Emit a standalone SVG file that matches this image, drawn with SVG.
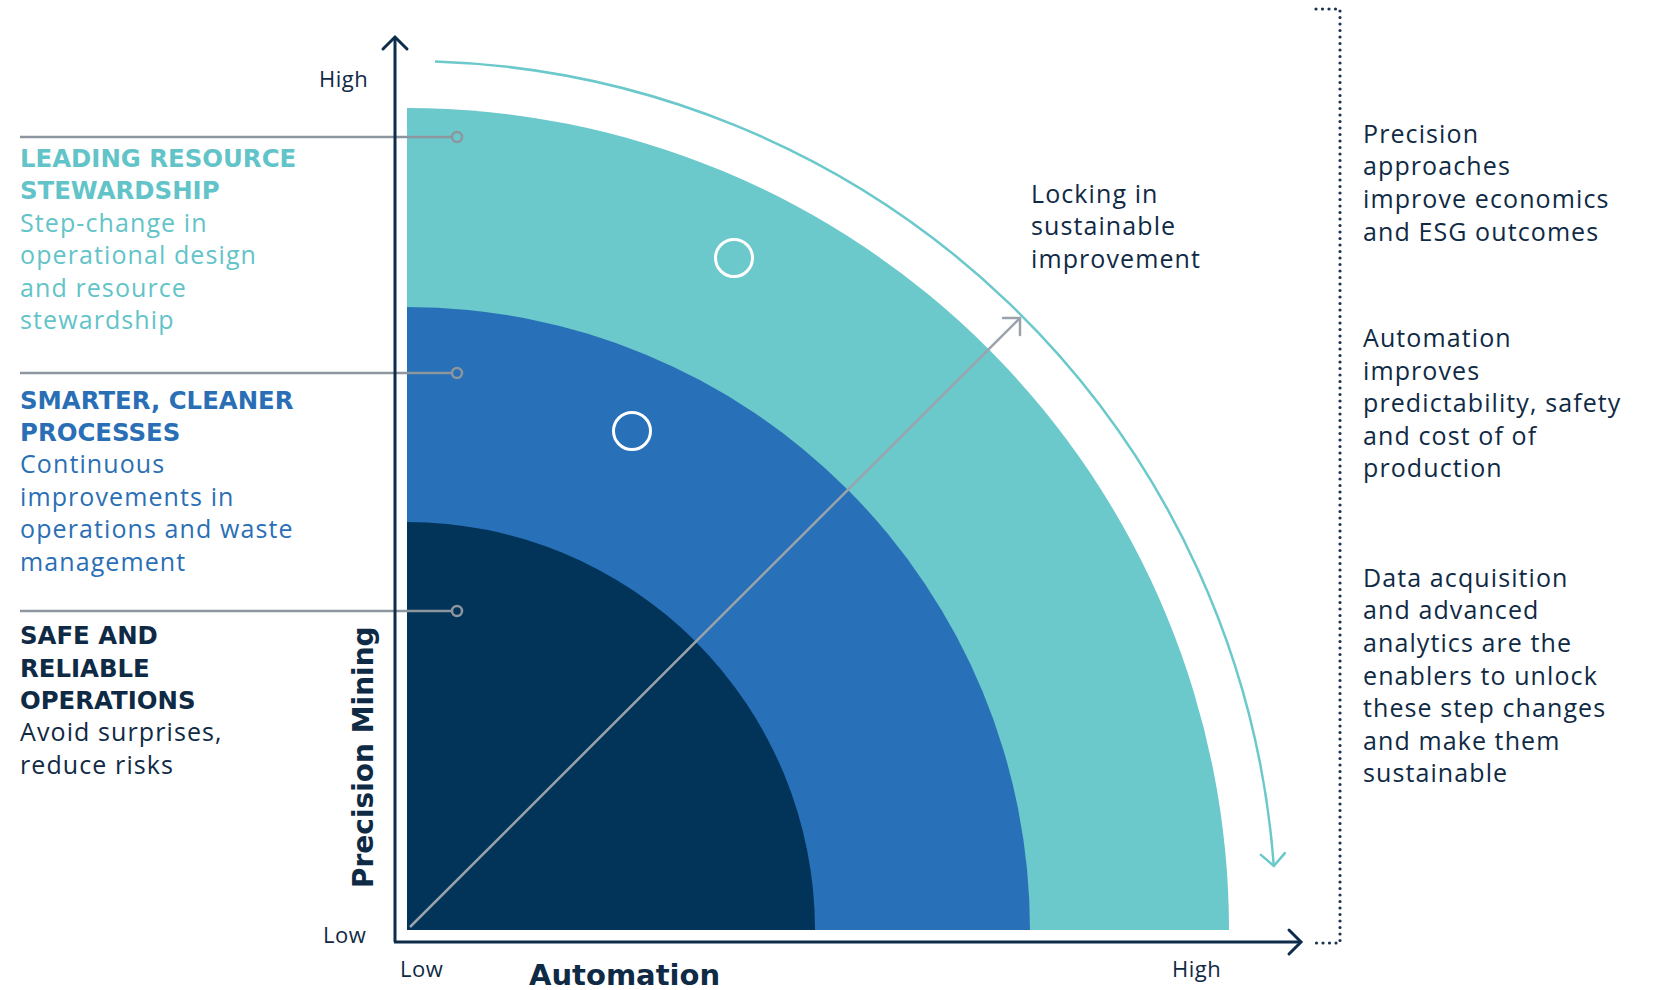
<svg xmlns="http://www.w3.org/2000/svg" width="1660" height="990" viewBox="0 0 1660 990">
<style>
.body{font-family:"Open Sans","DejaVu Sans",sans-serif;font-size:25px;letter-spacing:1.1px}
.head{font-family:"DejaVu Sans",sans-serif;font-weight:bold;font-size:24.4px}
.axl{font-family:"Open Sans","DejaVu Sans",sans-serif;font-size:22px;letter-spacing:0.5px;fill:#0f2a45}
.axt{font-family:"DejaVu Sans",sans-serif;font-weight:bold;font-size:29px;fill:#0f2a45}
.teal{fill:#62c4c8}.blue{fill:#2a6fb5}.navy{fill:#0f2a45}
.leader{stroke:#8d969e;stroke-width:2.5;fill:none}
.ring{stroke:#ffffff;stroke-width:3;fill:none}
.dots{stroke:#1a3350;stroke-width:3.2;stroke-linecap:round;stroke-dasharray:0 6.5;fill:none}
</style>
<defs>
<marker id="chevNavy" markerUnits="userSpaceOnUse" viewBox="-16 -16 20 32" markerWidth="20" markerHeight="32" refX="0" refY="0" orient="auto">
<path d="M-12,-12 L0,0 L-12,12" fill="none" stroke="#0e2d4d" stroke-width="3" stroke-linecap="round"/>
</marker>
<marker id="chevGray" markerUnits="userSpaceOnUse" viewBox="-16 -16 20 32" markerWidth="20" markerHeight="32" refX="0" refY="0" orient="auto">
<path d="M-12,-12 L0,0 L-12,12" fill="none" stroke="#9aa3ab" stroke-width="2.5" stroke-linecap="round"/>
</marker>
<marker id="chevTeal" markerUnits="userSpaceOnUse" viewBox="-16 -16 20 32" markerWidth="20" markerHeight="32" refX="0" refY="0" orient="auto">
<path d="M-12,-12 L0,0 L-12,12" fill="none" stroke="#6bc8cb" stroke-width="2.5" stroke-linecap="round"/>
</marker>
</defs>
<rect width="1660" height="990" fill="#ffffff"/>

<g id="rings">
<path d="M407,930 L407,108 A822,822 0 0 1 1229,930 Z" fill="#6bc8cb"/>
<path d="M407,930 L407,307 A623,623 0 0 1 1030,930 Z" fill="#2870b7"/>
<path d="M407,930 L407,522 A408,408 0 0 1 815,930 Z" fill="#023459"/>
<circle cx="734" cy="258" r="18.5" class="ring"/>
<circle cx="632" cy="431" r="18.5" class="ring"/>
</g>

<g id="connectors">
<line x1="20" y1="137" x2="452" y2="137" class="leader"/>
<circle cx="457" cy="137" r="5" class="leader"/>
<line x1="20" y1="373" x2="452" y2="373" class="leader"/>
<circle cx="457" cy="373" r="5" class="leader"/>
<line x1="20" y1="611" x2="452" y2="611" class="leader"/>
<circle cx="457" cy="611" r="5" class="leader"/>
<line x1="395" y1="942" x2="395" y2="37" stroke="#0e2d4d" stroke-width="3" marker-end="url(#chevNavy)"/>
<line x1="394" y1="942" x2="1301" y2="942" stroke="#0e2d4d" stroke-width="3" marker-end="url(#chevNavy)"/>
<line x1="410" y1="927" x2="1020" y2="318" stroke="#9aa3ab" stroke-width="2.5" marker-end="url(#chevGray)"/>
<path d="M435,61.5 A869,869 0 0 1 1273.8,866" fill="none" stroke="#6bc8cb" stroke-width="2.5" marker-end="url(#chevTeal)"/>
<path d="M1316,9 L1340,9 L1340,943 L1316,943" class="dots"/>
</g>

<g id="axis-labels">
<text x="319" y="87" class="axl">High</text>
<text x="323" y="943" class="axl">Low</text>
<text x="400" y="977" class="axl">Low</text>
<text x="1172" y="977" class="axl">High</text>
<text x="529" y="985" class="axt">Automation</text>
<text transform="translate(373,888) rotate(-90)" class="axt" style="font-size:28px">Precision Mining</text>
</g>

<g id="node-leading">
<text x="20" y="167" class="head teal">LEADING RESOURCE</text>
<text x="20" y="199" class="head teal">STEWARDSHIP</text>
<text class="body teal"><tspan x="20" y="232">Step-change in</tspan><tspan x="20" y="264">operational design</tspan><tspan x="20" y="297">and resource</tspan><tspan x="20" y="329">stewardship</tspan></text>
</g>

<g id="node-smarter">
<text x="20" y="409" class="head blue">SMARTER, CLEANER</text>
<text x="20" y="441" class="head blue">PROCESSES</text>
<text class="body blue"><tspan x="20" y="473">Continuous</tspan><tspan x="20" y="506">improvements in</tspan><tspan x="20" y="538">operations and waste</tspan><tspan x="20" y="571">management</tspan></text>
</g>

<g id="node-safe">
<text x="20" y="644" class="head navy">SAFE AND</text>
<text x="20" y="677" class="head navy">RELIABLE</text>
<text x="20" y="709" class="head navy">OPERATIONS</text>
<text class="body navy"><tspan x="20" y="741">Avoid surprises,</tspan><tspan x="20" y="774">reduce risks</tspan></text>
</g>

<g id="node-locking">
<text class="body navy"><tspan x="1031" y="203">Locking in</tspan><tspan x="1031" y="235">sustainable</tspan><tspan x="1031" y="268">improvement</tspan></text>
</g>

<g id="node-precision">
<text class="body navy"><tspan x="1363" y="143">Precision</tspan><tspan x="1363" y="175">approaches</tspan><tspan x="1363" y="208">improve economics</tspan><tspan x="1363" y="241">and ESG outcomes</tspan></text>
</g>

<g id="node-automation">
<text class="body navy"><tspan x="1363" y="347">Automation</tspan><tspan x="1363" y="380">improves</tspan><tspan x="1363" y="412">predictability, safety</tspan><tspan x="1363" y="445">and cost of of</tspan><tspan x="1363" y="477">production</tspan></text>
</g>

<g id="node-data">
<text class="body navy"><tspan x="1363" y="587">Data acquisition</tspan><tspan x="1363" y="619">and advanced</tspan><tspan x="1363" y="652">analytics are the</tspan><tspan x="1363" y="685">enablers to unlock</tspan><tspan x="1363" y="717">these step changes</tspan><tspan x="1363" y="750">and make them</tspan><tspan x="1363" y="782">sustainable</tspan></text>
</g>
</svg>
